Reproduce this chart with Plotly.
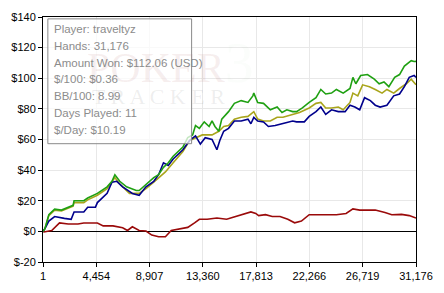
import plotly.graph_objects as go

# ---- data (hands played vs. cumulative winnings in USD) ----
green_hands = [1, 162, 487, 974, 1543, 2517, 2598, 3410, 3735, 4547, 5359, 5765, 6009, 6415, 6983, 7795, 8039, 8607, 9257, 9663,
               10069, 10475, 10881, 11693, 12099, 12505, 12748, 13073, 13479, 13885, 14129, 14372, 14697, 14941, 15509, 15996,
               16565, 17133, 17539, 17620, 17945, 18432, 19001, 19569, 19975, 20381, 20868, 21193, 21680, 22249, 22817, 23223,
               23629, 24116, 24522, 25091, 25659, 25903, 26146, 26552, 27121, 27689, 28095, 28501, 28907, 29394, 29800, 30206,
               30775, 31018, 31176]
green_vals = [0, 1.8, 10.9, 14.5, 13.9, 17.0, 20.0, 20.0, 21.8, 24.8, 29.1, 32.7, 37.0, 32.7, 29.1, 26.7, 26.7, 30.9, 35.1, 37.0,
              41.8, 44.8, 49.1, 55.1, 61.2, 63.0, 69.1, 67.3, 71.5, 68.5, 72.1, 68.5, 65.4, 73.3, 78.2, 83.6, 85.4, 84.2, 88.5, 90.3,
              84.2, 83.6, 79.4, 81.2, 77.6, 79.4, 78.2, 78.2, 80.6, 84.2, 87.3, 92.7, 89.7, 90.3, 92.7, 90.3, 93.3, 100.6, 96.4, 101.8,
              102.4, 99.4, 96.4, 97.6, 94.5, 100.6, 102.4, 107.9, 111.5, 110.9, 111.0]

yellow_hands = [1, 162, 487, 974, 1543, 2517, 2598, 3410, 3735, 4547, 5359, 5765, 6009, 6415, 7227, 8039, 8607, 9257, 9663, 10231,
                10881, 11693, 12261, 12748, 13317, 14129, 14697, 15103, 15509, 15996, 16565, 17133, 17620, 17945, 18432, 19001,
                19569, 20056, 20868, 21437, 22249, 22817, 23223, 23629, 24116, 24685, 25091, 25659, 25903, 26309, 26715, 27283,
                27770, 28339, 28745, 29313, 29800, 30369, 30775, 31176]
yellow_vals = [0, 1.8, 10.3, 13.9, 13.3, 16.4, 18.8, 18.8, 20.6, 23.6, 27.9, 32.1, 35.1, 30.9, 24.8, 24.8, 27.9, 32.1, 35.1, 38.8,
               44.8, 52.1, 59.4, 61.2, 63.0, 63.0, 65.4, 68.5, 69.1, 73.3, 74.5, 75.1, 78.2, 73.3, 72.1, 72.1, 74.5, 74.5, 76.4, 77.6,
               80.6, 83.6, 84.2, 80.6, 80.6, 81.2, 79.4, 84.2, 90.3, 88.5, 95.7, 94.5, 92.7, 90.3, 92.7, 90.3, 93.3, 96.4, 99.4, 95.7]

blue_hands = [1, 162, 487, 974, 1786, 2355, 2598, 3410, 3735, 4385, 4547, 5359, 5765, 6171, 6658, 7470, 8039, 8607, 9257, 9663,
              10069, 10475, 10881, 11693, 12261, 12748, 13154, 13560, 14129, 14535, 14778, 15103, 15509, 15996, 16565, 17133,
              17377, 17620, 17945, 18432, 18838, 19407, 19975, 20462, 20868, 21193, 21843, 22249, 22817, 23223, 23629, 24116,
              24685, 25253, 25659, 26065, 26471, 26877, 27364, 27770, 28176, 28745, 29313, 29800, 30206, 30612, 31018, 31176]
blue_vals = [0, 1.8, 6.7, 9.7, 8.5, 7.9, 12.7, 12.7, 15.8, 15.8, 18.8, 24.8, 32.1, 32.7, 29.1, 24.8, 23.6, 29.1, 32.7, 37.0,
             44.8, 43.0, 47.3, 53.3, 59.4, 62.4, 57.0, 61.2, 60.0, 53.3, 59.4, 65.4, 67.3, 72.1, 72.1, 73.3, 70.3, 74.5, 72.1, 71.5,
             68.5, 69.1, 70.3, 71.5, 72.1, 71.5, 71.5, 75.1, 78.2, 81.2, 76.4, 79.4, 78.2, 78.2, 82.4, 81.2, 79.4, 87.3, 85.4, 82.4,
             81.2, 82.4, 88.5, 89.7, 94.5, 100.6, 101.8, 100.6]

red_hands = [1, 81, 731, 1380, 2111, 2923, 3410, 4547, 5034, 5846, 6658, 7064, 7470, 8039, 8607, 9094, 9663, 10231, 10718, 11449,
             12099, 12667, 13073, 13722, 14535, 15347, 16159, 16971, 17377, 17783, 18026, 18595, 19163, 19813, 20462, 21031,
             21599, 22249, 22898, 23710, 24522, 25334, 25903, 26471, 27283, 27770, 28582, 29151, 29963, 30612, 31176]
red_vals = [0, -0.4, 0.6, 5.5, 4.8, 4.8, 5.5, 5.5, 3.6, 3.6, 2.4, 0.6, 3.0, 0.6, 0.2, -2.4, -3.5, -3.5, 0.6, 1.8,
            2.6, 5.6, 7.9, 7.9, 8.7, 7.9, 9.7, 11.7, 12.7, 11.7, 10.3, 10.9, 9.7, 9.7, 7.9, 5.6, 6.7, 10.9, 10.9, 11.1,
            10.9, 11.7, 14.7, 13.9, 13.9, 13.9, 12.3, 10.9, 11.1, 10.3, 8.7]

x_ticks = [1, 4454, 8907, 13360, 17813, 22266, 26719, 31176]
x_ticklabels = ["1", "4,454", "8,907", "13,360", "17,813", "22,266", "26,719", "31,176"]
y_ticks = [-20, 0, 20, 40, 60, 80, 100, 120, 140]
y_ticklabels = ["$-20", "$0", "$20", "$40", "$60", "$80", "$100", "$120", "$140"]

info_lines = ["Player: traveltyz", "Hands: 31,176", "Amount Won: $112.06 (USD)", "$/100: $0.36",
              "BB/100: 8.99", "Days Played: 11", "$/Day: $10.19"]

FONT = "Liberation Sans"


def px_x(p):
    return (p - 41) / 384


def px_y(p):
    return (274 - p) / 263


fig = go.Figure()
for hx, vy, col in [(red_hands, red_vals, "#9a0a0a"),
                    (yellow_hands, yellow_vals, "#a9a51c"),
                    (blue_hands, blue_vals, "#00008c"),
                    (green_hands, green_vals, "#1fa012")]:
    fig.add_trace(go.Scatter(x=hx, y=vy, mode="lines", line=dict(color=col, width=1.6),
                             showlegend=False, hoverinfo="skip"))

fig.update_layout(
    width=444, height=293,
    margin=dict(l=41, r=19, t=11, b=19),
    paper_bgcolor="white", plot_bgcolor="white",
    font=dict(family=FONT, size=11, color="black"),
    showlegend=False,
)
fig.update_xaxes(range=[1, 31176], tickvals=x_ticks, ticktext=x_ticklabels,
                 showgrid=True, gridcolor="#e8e8e8", gridwidth=1,
                 showline=True, linecolor="black", linewidth=1, mirror=True,
                 ticks="outside", ticklen=4, tickcolor="black", zeroline=False,
                 tickfont=dict(family=FONT, size=11, color="black"))
fig.update_yaxes(range=[-20, 140], tickvals=y_ticks, ticktext=y_ticklabels,
                 showgrid=True, gridcolor="#e8e8e8", gridwidth=1,
                 showline=True, linecolor="black", linewidth=1, mirror=True,
                 ticks="outside", ticklen=4, tickcolor="black",
                 zeroline=True, zerolinecolor="black", zerolinewidth=1,
                 tickfont=dict(family=FONT, size=11, color="black"))

# info box
fig.add_shape(type="rect", xref="paper", yref="paper",
              x0=px_x(46), x1=px_x(194), y0=px_y(147), y1=px_y(13),
              line=dict(color="#8a8a8a", width=1), fillcolor="rgba(255,255,255,0.75)", layer="above")

# watermark
fig.add_annotation(text="POKER<span style='font-size:58px;color:rgba(60,160,60,0.16)'>3</span>",
                   xref="paper", yref="paper", x=px_x(172), y=px_y(60),
                   xanchor="center", yanchor="middle", showarrow=False,
                   font=dict(family="Liberation Serif", size=42, color="rgba(190,120,120,0.13)"))
fig.add_annotation(text="T R A C K E R", xref="paper", yref="paper", x=px_x(160), y=px_y(96),
                   xanchor="center", yanchor="middle", showarrow=False,
                   font=dict(family="Liberation Serif", size=22, color="rgba(120,120,120,0.13)"))

for i, t in enumerate(info_lines):
    fig.add_annotation(text=t, xref="paper", yref="paper", x=px_x(50), y=px_y(24 + 18 * i),
                       xanchor="left", yanchor="middle", showarrow=False,
                       font=dict(family=FONT, size=11.5, color="#8c8c8c"))

fig.write_html("out.html")
